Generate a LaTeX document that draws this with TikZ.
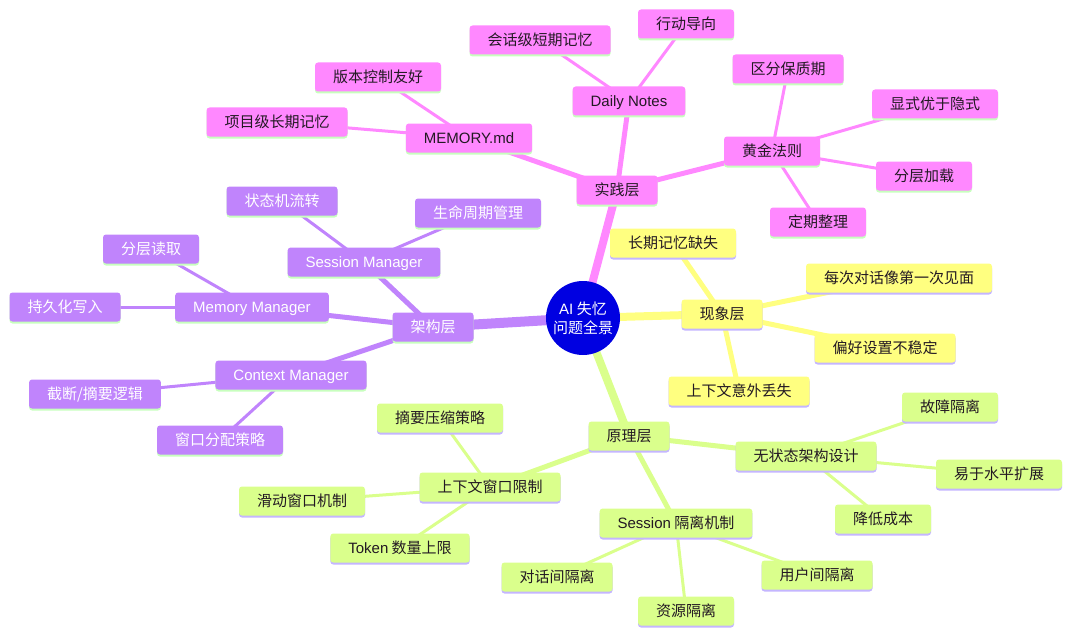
\documentclass[tikz,border=0pt]{standalone}
\usepackage{fontspec}
\setmainfont{Liberation Sans}
\newfontfamily\cjk{Noto Sans CJK SC}
\newfontfamily\enwf{Liberation Sans}
\newcommand\enw[1]{{\enwf #1}}
\usetikzlibrary{shadows,backgrounds}
\definecolor{pinkc}{RGB}{255,136,255}
\definecolor{purc}{RGB}{192,132,252}
\definecolor{yelc}{RGB}{255,255,128}
\definecolor{grnc}{RGB}{218,255,140}
\definecolor{shg}{RGB}{200,255,190}
\definecolor{shl}{RGB}{196,182,255}
\definecolor{txt}{RGB}{35,25,35}
\definecolor{ctr}{RGB}{0,0,225}
\tikzset{
  box/.style={rounded corners=3pt, inner xsep=18pt, inner ysep=0pt, minimum height=29pt,
    text height=12pt, text depth=1pt,
    font=\cjk\fontsize{15}{17}\selectfont, text=txt},
  pbox/.style={box, fill=pinkc, general shadow={shadow yshift=-2pt, fill=shg}},
  ubox/.style={box, fill=purc, text=white, general shadow={shadow yshift=-2pt, fill=shg}},
  ybox/.style={box, fill=yelc, general shadow={shadow yshift=-2pt, fill=shl}},
  gbox/.style={box, fill=grnc, general shadow={shadow yshift=-2pt, fill=shl}},
  l1/.style={line width=8pt},
  l2/.style={line width=5pt},
  l3/.style={line width=3pt},
}
\begin{document}
\begin{tikzpicture}[x=1pt,y=-1pt]
\useasboundingbox (0,0) rectangle (1080,642);
\node[circle, fill=ctr, minimum size=74pt, inner sep=0pt, text=white, align=center,
  font=\cjk\fontsize{15}{19}\selectfont] (c) at (583,318) {\enw{AI} 失忆\\问题全景};
% pink
\node[pbox] (pr) at (617,190) {实践层};
\node[pbox] (dn) at (629,101) {\enw{Daily Notes}};
\node[pbox] (dn1) at (540,40) {会话级短期记忆};
\node[pbox] (dn2) at (686,24) {行动导向};
\node[pbox] (mm) at (469,138) {\enw{MEMORY.md}};
\node[pbox] (mm1) at (378,77) {版本控制友好};
\node[pbox] (mm2) at (277,122) {项目级长期记忆};
\node[pbox] (gr) at (772,151) {黄金法则};
\node[pbox] (gr1) at (788,69) {区分保质期};
\node[pbox] (gr2) at (935,104) {显式优于隐式};
\node[pbox] (gr3) at (924,176) {分层加载};
\node[pbox] (gr4) at (818,222) {定期整理};
% purple
\node[ubox] (ar) at (433,327) {架构层};
\node[ubox] (sm) at (364,262) {\enw{Session Manager}};
\node[ubox] (sm1) at (282,201) {状态机流转};
\node[ubox] (sm2) at (478,213) {生命周期管理};
\node[ubox] (me) at (252,307) {\enw{Memory Manager}};
\node[ubox] (me1) at (151,249) {分层读取};
\node[ubox] (me2) at (65,307) {持久化写入};
\node[ubox] (cm) at (291,375) {\enw{Context Manager}};
\node[ubox] (cm1) at (95,394) {截断/摘要逻辑};
\node[ubox] (cm2) at (220,440) {窗口分配策略};
% yellow
\node[ybox] (ph) at (722,314) {现象层};
\node[ybox] (ph1) at (673,243) {长期记忆缺失};
\node[ybox] (ph2) at (899,278) {每次对话像第一次见面};
\node[ybox] (ph3) at (885,348) {偏好设置不稳定};
\node[ybox] (ph4) at (739,391) {上下文意外丢失};
% green
\node[gbox] (pl) at (629,436) {原理层};
\node[gbox] (st) at (806,456) {无状态架构设计};
\node[gbox] (st1) at (950,407) {故障隔离};
\node[gbox] (st2) at (999,474) {易于水平扩展};
\node[gbox] (st3) at (883,519) {降低成本};
\node[gbox] (si) at (676,523) {\enw{Session} 隔离机制};
\node[gbox] (si1) at (557,577) {对话间隔离};
\node[gbox] (si2) at (686,611) {资源隔离};
\node[gbox] (si3) at (817,575) {用户间隔离};
\node[gbox] (cw) at (490,487) {上下文窗口限制};
\node[gbox] (cw1) at (440,418) {摘要压缩策略};
\node[gbox] (cw2) at (302,501) {滑动窗口机制};
\node[gbox] (cw3) at (400,548) {\enw{Token} 数量上限};
\begin{scope}[on background layer]
\draw[pinkc, l1] (c.center) -- (pr.center);
\draw[purc, line width=10pt] (c.center) -- (ar.center);
\draw[yelc, l1] (c.center) -- (ph.center);
\draw[grnc, l1] (c.center) -- (pl.center);
\foreach \a/\b in {pr/dn, pr/mm, pr/gr}{\draw[pinkc, l2] (\a.center) -- (\b.center);}
\foreach \a/\b in {dn/dn1, dn/dn2, mm/mm1, mm/mm2, gr/gr1, gr/gr2, gr/gr3, gr/gr4}{\draw[pinkc, l3] (\a.center) -- (\b.center);}
\foreach \a/\b in {ar/sm, ar/me, ar/cm}{\draw[purc, l2] (\a.center) -- (\b.center);}
\foreach \a/\b in {sm/sm1, sm/sm2, me/me1, me/me2, cm/cm1, cm/cm2}{\draw[purc, l3] (\a.center) -- (\b.center);}
\foreach \a/\b in {ph/ph1, ph/ph2, ph/ph3, ph/ph4}{\draw[yelc, l2] (\a.center) -- (\b.center);}
\foreach \a/\b in {pl/st, pl/si, pl/cw}{\draw[grnc, l2] (\a.center) -- (\b.center);}
\foreach \a/\b in {st/st1, st/st2, st/st3, si/si1, si/si2, si/si3, cw/cw1, cw/cw2, cw/cw3}{\draw[grnc, l3] (\a.center) -- (\b.center);}
\end{scope}
\end{tikzpicture}
\end{document}
